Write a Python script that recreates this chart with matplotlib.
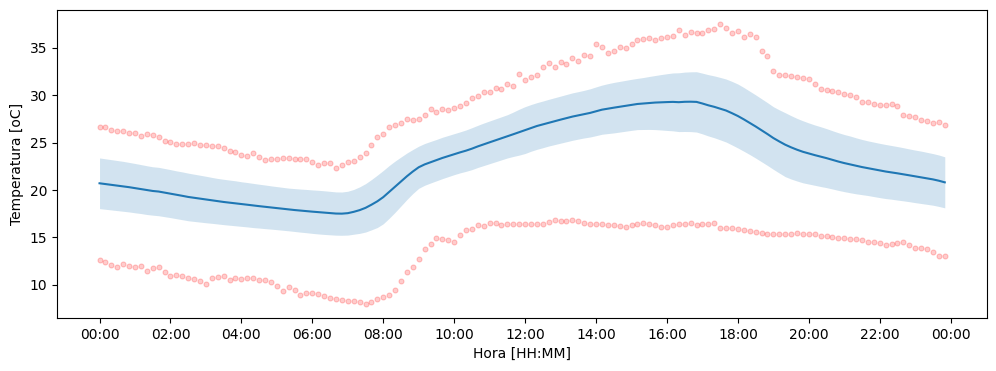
import numpy as np
import pandas as pd
import matplotlib
matplotlib.use("Agg")
import matplotlib.pyplot as plt
import matplotlib.dates as mdates

# horas del dia, cada 10 minutos
horas = pd.date_range("2023-01-01 00:00", periods=144, freq="10min")

temp_media = [
    20.71, 20.63, 20.55, 20.47, 20.39, 20.30, 20.20, 20.10, 19.99, 19.90,
    19.84, 19.73, 19.62, 19.50, 19.39, 19.27, 19.18, 19.09, 19.00, 18.91,
    18.82, 18.74, 18.67, 18.60, 18.52, 18.45, 18.37, 18.30, 18.23, 18.16,
    18.09, 18.02, 17.95, 17.89, 17.83, 17.78, 17.72, 17.67, 17.62, 17.57,
    17.52, 17.51, 17.56, 17.70, 17.88, 18.12, 18.45, 18.81, 19.25, 19.80,
    20.35, 20.90, 21.45, 21.95, 22.40, 22.70, 22.93, 23.15, 23.38, 23.58,
    23.78, 23.97, 24.15, 24.36, 24.60, 24.82, 25.03, 25.24, 25.45, 25.66,
    25.88, 26.10, 26.32, 26.55, 26.75, 26.92, 27.10, 27.26, 27.42, 27.58,
    27.74, 27.87, 28.00, 28.13, 28.30, 28.47, 28.58, 28.68, 28.78, 28.88,
    28.98, 29.07, 29.12, 29.18, 29.22, 29.25, 29.27, 29.29, 29.26, 29.30,
    29.31, 29.29, 29.12, 28.93, 28.77, 28.58, 28.38, 28.10, 27.80, 27.45,
    27.08, 26.70, 26.30, 25.90, 25.48, 25.12, 24.78, 24.50, 24.25, 24.03,
    23.85, 23.68, 23.52, 23.36, 23.18, 23.00, 22.84, 22.70, 22.55, 22.42,
    22.30, 22.18, 22.06, 21.95, 21.86, 21.76, 21.66, 21.55, 21.44, 21.34,
    21.23, 21.12, 20.98, 20.81,
]

temp_std = [
    2.67, 2.66, 2.65, 2.64, 2.63, 2.61, 2.60, 2.58, 2.57, 2.55,
    2.55, 2.54, 2.53, 2.52, 2.52, 2.51, 2.49, 2.47, 2.45, 2.42,
    2.40, 2.39, 2.38, 2.37, 2.35, 2.34, 2.33, 2.31, 2.30, 2.28,
    2.27, 2.26, 2.25, 2.26, 2.27, 2.28, 2.29, 2.30, 2.30, 2.29,
    2.28, 2.28, 2.31, 2.36, 2.45, 2.55, 2.65, 2.76, 2.81, 2.78,
    2.70, 2.58, 2.45, 2.32, 2.22, 2.20, 2.19, 2.18, 2.18, 2.17,
    2.16, 2.16, 2.18, 2.21, 2.22, 2.24, 2.25, 2.26, 2.27, 2.28,
    2.34, 2.42, 2.47, 2.46, 2.46, 2.46, 2.46, 2.47, 2.48, 2.49,
    2.50, 2.50, 2.51, 2.54, 2.57, 2.59, 2.63, 2.66, 2.67, 2.68,
    2.69, 2.70, 2.74, 2.79, 2.85, 2.92, 2.99, 3.05, 3.10, 3.13,
    3.15, 3.18, 3.20, 3.23, 3.26, 3.29, 3.32, 3.35, 3.37, 3.36,
    3.34, 3.33, 3.32, 3.31, 3.30, 3.33, 3.37, 3.34, 3.30, 3.27,
    3.22, 3.18, 3.15, 3.11, 3.07, 3.04, 3.01, 2.99, 2.95, 2.91,
    2.88, 2.87, 2.86, 2.85, 2.83, 2.82, 2.80, 2.78, 2.77, 2.76,
    2.74, 2.72, 2.71, 2.69,
]

temp_max = [
    26.64, 26.64, 26.33, 26.22, 26.22, 26.01, 26.01, 25.69, 25.94, 25.84,
    25.59, 25.13, 25.06, 24.85, 24.85, 24.85, 24.99, 24.75, 24.75, 24.64,
    24.64, 24.43, 24.08, 24.01, 23.69, 23.59, 23.90, 23.48, 23.17, 23.27,
    23.27, 23.38, 23.38, 23.27, 23.27, 23.27, 22.95, 22.64, 22.85, 22.85,
    22.32, 22.64, 22.95, 23.06, 23.48, 23.90, 24.75, 25.59, 25.94, 26.64,
    26.85, 27.06, 27.49, 27.38, 27.49, 27.91, 28.54, 28.22, 28.54, 28.43,
    28.65, 28.86, 29.17, 29.70, 29.91, 30.33, 30.33, 30.79, 30.65, 31.17,
    30.96, 32.23, 31.60, 31.91, 32.12, 32.97, 33.39, 32.97, 33.49, 33.28,
    33.91, 33.60, 34.23, 34.12, 35.39, 35.07, 34.44, 34.65, 35.07, 34.97,
    35.39, 35.81, 35.92, 36.02, 35.81, 36.02, 36.13, 36.23, 36.86, 36.34,
    36.65, 36.55, 36.55, 36.86, 36.97, 37.50, 37.07, 36.55, 36.76, 36.13,
    36.44, 36.13, 34.65, 34.12, 32.54, 32.12, 32.12, 32.02, 31.91, 31.81,
    31.70, 31.17, 30.65, 30.54, 30.44, 30.33, 30.12, 30.02, 29.80, 29.28,
    29.28, 29.07, 28.96, 28.96, 29.07, 28.86, 27.91, 27.80, 27.70, 27.38,
    27.28, 27.06, 27.17, 26.85,
]

temp_min = [
    12.63, 12.42, 12.10, 11.89, 12.21, 12.00, 11.89, 12.00, 11.47, 11.79,
    11.89, 11.36, 10.94, 11.05, 10.94, 10.73, 10.63, 10.42, 10.10, 10.73,
    10.84, 10.94, 10.52, 10.73, 10.63, 10.73, 10.73, 10.52, 10.52, 10.31,
    9.89, 9.36, 9.78, 9.47, 8.94, 9.15, 9.15, 9.05, 8.84, 8.62,
    8.52, 8.41, 8.31, 8.31, 8.20, 7.99, 8.20, 8.52, 8.73, 8.94,
    9.47, 10.42, 11.36, 11.89, 12.73, 13.79, 14.31, 14.95, 14.84, 14.74,
    14.53, 15.26, 15.79, 15.90, 16.32, 16.21, 16.53, 16.53, 16.32, 16.42,
    16.42, 16.42, 16.42, 16.42, 16.42, 16.42, 16.63, 16.84, 16.74, 16.74,
    16.84, 16.74, 16.53, 16.42, 16.42, 16.42, 16.32, 16.32, 16.21, 16.11,
    16.32, 16.42, 16.53, 16.42, 16.32, 16.11, 16.11, 16.32, 16.42, 16.42,
    16.53, 16.32, 16.42, 16.42, 16.53, 16.00, 16.00, 16.00, 15.90, 15.79,
    15.68, 15.58, 15.47, 15.37, 15.37, 15.37, 15.37, 15.37, 15.47, 15.37,
    15.37, 15.37, 15.16, 15.16, 15.05, 14.95, 14.95, 14.84, 14.84, 14.74,
    14.53, 14.53, 14.42, 14.21, 14.31, 14.42, 14.53, 14.21, 13.89, 13.89,
    13.79, 13.47, 13.05, 13.05,
]

media = np.array(temp_media)
std = np.array(temp_std)

fig, ax = plt.subplots(figsize=(9.96, 3.71), dpi=100)
fig.subplots_adjust(left=0.0575, right=0.991, bottom=0.143, top=0.973)

ax.plot(horas, temp_max, 'o', color='red', alpha=0.2, markersize=3.6, markeredgewidth=0.8)
ax.plot(horas, temp_min, 'o', color='red', alpha=0.2, markersize=3.6, markeredgewidth=0.8)
ax.fill_between(horas, media - std, media + std, color='C0', alpha=0.2, linewidth=0)
ax.plot(horas, media, color='C0', linewidth=1.5)

ax.xaxis.set_major_locator(mdates.HourLocator(interval=2))
ax.xaxis.set_major_formatter(mdates.DateFormatter('%H:%M'))
ax.set_xlabel('Hora [HH:MM]')
ax.set_ylabel('Temperatura [oC]')

plt.savefig('out.png', dpi=100)
